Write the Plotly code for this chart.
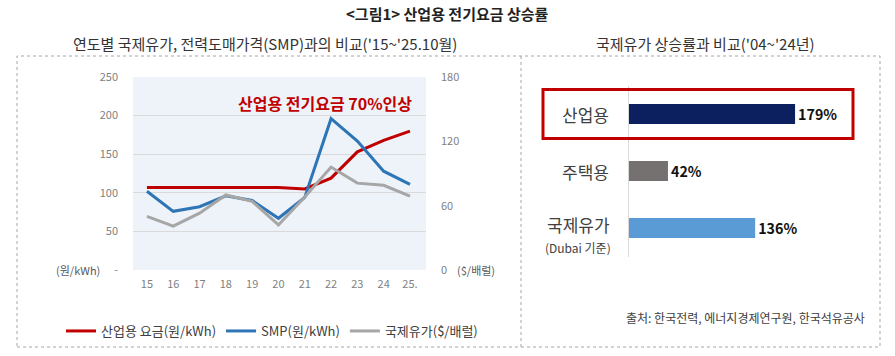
import plotly.graph_objects as go

# ---- data ----
years = ["15", "16", "17", "18", "19", "20", "21", "22", "23", "24", "25."]
industrial_rate = [107, 107, 107, 107, 107, 107, 105, 119, 153, 168, 180]   # 원/kWh
smp = [102, 76, 82, 96, 90, 67, 94, 196, 167, 128, 111]                     # 원/kWh
oil = [50, 41, 53, 70, 64, 42, 68, 96, 81, 79, 69]                          # $/배럴

bar_cats = ["산업용", "주택용", "국제유가"]
bar_vals = [179, 42, 136]
bar_colors = ["#0c1f5e", "#767171", "#5b9bd5"]

left_ticks = [0, 50, 100, 150, 200, 250]
left_ticktext = ["-", "50", "100", "150", "200", "250"]
right_ticks = [0, 60, 120, 180]

W, H = 895, 356
FONT = "Noto Sans CJK KR"

def px(x):
    return x / W

def py(y):
    return (H - y) / H

fig = go.Figure()

fig.add_trace(go.Scatter(x=years, y=industrial_rate, mode="lines", name="산업용 요금(원/kWh)",
                         line=dict(color="#c00000", width=3), xaxis="x", yaxis="y"))
fig.add_trace(go.Scatter(x=years, y=smp, mode="lines", name="SMP(원/kWh)",
                         line=dict(color="#2e75b6", width=3), xaxis="x", yaxis="y"))
fig.add_trace(go.Scatter(x=years, y=oil, mode="lines", name="국제유가($/배럴)",
                         line=dict(color="#a6a6a6", width=3), xaxis="x", yaxis="y2"))

fig.add_trace(go.Bar(x=bar_vals, y=bar_cats, orientation="h", marker=dict(color=bar_colors, line=dict(width=0)),
                     width=0.35, texttemplate="%{x}%", textposition="outside", cliponaxis=False,
                     textfont=dict(size=15, color="#111111", family=FONT, weight="bold"),
                     showlegend=False, xaxis="x2", yaxis="y3", hoverinfo="skip"))

annotations = [
    dict(text="<b><그림1> 산업용 전기요금 상승률</b>", x=px(447), y=py(14), xref="paper", yref="paper",
         showarrow=False, font=dict(size=15, color="#222222"), xanchor="center", yanchor="middle"),
    dict(text="연도별 국제유가, 전력도매가격(SMP)과의 비교('15~'25.10월)", x=px(265), y=py(43),
         xref="paper", yref="paper", showarrow=False, font=dict(size=15, color="#333333"),
         xanchor="center", yanchor="middle"),
    dict(text="국제유가 상승률과 비교('04~'24년)", x=px(705), y=py(43), xref="paper", yref="paper",
         showarrow=False, font=dict(size=15, color="#333333"), xanchor="center", yanchor="middle"),
    dict(text="<b>산업용 전기요금 70%인상</b>", x=px(414), y=py(103), xref="paper", yref="paper",
         showarrow=False, font=dict(size=16, color="#c00000"), xanchor="right", yanchor="middle"),
    dict(text="(원/kWh)", x=px(78), y=py(270), xref="paper", yref="paper", showarrow=False,
         font=dict(size=11, color="#595959"), xanchor="center", yanchor="middle"),
    dict(text="($/배럴)", x=px(476), y=py(270), xref="paper", yref="paper", showarrow=False,
         font=dict(size=11, color="#595959"), xanchor="center", yanchor="middle"),
    dict(text="1~10", x="25.", y=py(311), xref="x", yref="paper", showarrow=False,
         font=dict(size=11, color="#7f7f7f"), xanchor="center", yanchor="middle"),
    dict(text="출처: 한국전력, 에너지경제연구원, 한국석유공사", x=px(867), y=py(317), xref="paper", yref="paper",
         showarrow=False, font=dict(size=12, color="#404040"), xanchor="right", yanchor="middle"),
]
# right-chart category labels
for i, c in enumerate(bar_cats):
    if c == "국제유가":
        annotations.append(dict(text=c, x=px(578), y=i, xref="paper", yref="y3", yshift=4,
                                showarrow=False, font=dict(size=17, color="#404040"),
                                xanchor="center", yanchor="middle"))
        annotations.append(dict(text="(Dubai 기준)", x=px(578), y=i, xref="paper", yref="y3", yshift=-19,
                                showarrow=False, font=dict(size=12, color="#404040"),
                                xanchor="center", yanchor="middle"))
    else:
        annotations.append(dict(text=c, x=px(585), y=i, xref="paper", yref="y3",
                                showarrow=False, font=dict(size=17, color="#404040"),
                                xanchor="center", yanchor="middle"))

shapes = [
    # left plot background
    dict(type="rect", xref="x domain", yref="y domain", x0=0, x1=1, y0=0, y1=1,
         fillcolor="#eef3fa", line=dict(width=0), layer="below"),
    # dotted frame
    dict(type="rect", xref="paper", yref="paper", x0=px(17), x1=px(880), y0=py(347), y1=py(56),
         line=dict(color="#a6a6a6", width=1, dash="dot")),
    dict(type="line", xref="paper", yref="paper", x0=px(521), x1=px(521), y0=py(347), y1=py(56),
         line=dict(color="#a6a6a6", width=1, dash="dot")),
    # red highlight box
    dict(type="rect", xref="paper", yref="y3", x0=px(543), x1=px(853), y0=-0.43, y1=0.43,
         line=dict(color="#c00000", width=3)),
]

fig.update_layout(
    width=W, height=H, margin=dict(l=0, r=0, t=0, b=0, autoexpand=False),
    paper_bgcolor="white", plot_bgcolor="rgba(0,0,0,0)",
    font=dict(family=FONT, color="#404040"),
    showlegend=True,
    legend=dict(orientation="h", x=px(272), y=py(331), xanchor="center", yanchor="middle",
                font=dict(size=13, color="#404040"), bgcolor="rgba(0,0,0,0)",
                itemwidth=30, tracegroupgap=0),
    xaxis=dict(domain=[px(133), px(426)], type="category", range=[-0.53, 10.61], anchor="y",
               showgrid=False, zeroline=False, showline=False, ticks="", automargin=False,
               tickfont=dict(size=11, color="#7f7f7f"), ticklabelstandoff=6),
    yaxis=dict(domain=[py(270), py(77)], range=[0, 250], tickvals=left_ticks, ticktext=left_ticktext,
               anchor="x", showgrid=True, gridcolor="#d9d9d9", gridwidth=1, zeroline=False, showline=False,
               automargin=False, tickfont=dict(size=11, color="#7f7f7f"), ticklabelstandoff=14),
    yaxis2=dict(overlaying="y", side="right", anchor="x", range=[0, 180], tickvals=right_ticks,
                showgrid=False, zeroline=False, showline=False, automargin=False,
                tickfont=dict(size=11, color="#7f7f7f"), ticklabelstandoff=14),
    xaxis2=dict(domain=[px(629), px(860)], range=[0, 249], anchor="y3", visible=False, automargin=False),
    yaxis3=dict(domain=[py(256.5), py(85.5)], type="category", categoryorder="array",
                categoryarray=bar_cats, range=[2.5, -0.5], anchor="x2", automargin=False,
                showticklabels=False, showgrid=False, zeroline=False,
                showline=True, linecolor="#d9d9d9", linewidth=1),
    annotations=annotations,
    shapes=shapes,
)

fig.write_html("out.html", config={"displayModeBar": False},
               post_script="document.body.style.margin='0';")
